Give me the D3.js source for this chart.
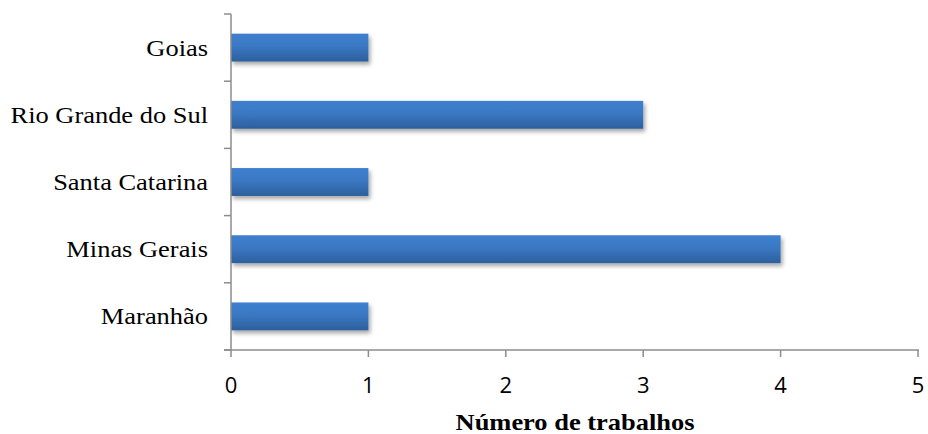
<!DOCTYPE html>
<html><head><meta charset="utf-8">
<script src="https://cdn.jsdelivr.net/npm/d3@7"></script>
<style>body{margin:0;background:#fff}svg{display:block}</style>
</head><body>
<script>
const categories = ["Goias", "Rio Grande do Sul", "Santa Catarina", "Minas Gerais", "Maranhão"];
const values = [1, 3, 1, 4, 1];
const xTicks = [0, 1, 2, 3, 4, 5];
const xTitle = "Número de trabalhos";

const W = 928, H = 434;
const svg = d3.select("body").append("svg").attr("width", W).attr("height", H);
const defs = svg.append("defs");
const grad = defs.append("linearGradient").attr("id", "g").attr("x1", 0).attr("y1", 0).attr("x2", 0).attr("y2", 1);
grad.append("stop").attr("offset", "0%").attr("stop-color", "#3f80cf");
grad.append("stop").attr("offset", "45%").attr("stop-color", "#3a78c3");
grad.append("stop").attr("offset", "100%").attr("stop-color", "#2d5f9c");
const f = defs.append("filter").attr("id", "sh").attr("x", "-5%").attr("y", "-30%").attr("width", "115%").attr("height", "180%");
f.append("feGaussianBlur").attr("in", "SourceAlpha").attr("stdDeviation", 2).attr("result", "b");
f.append("feOffset").attr("in", "b").attr("dx", 2).attr("dy", 3).attr("result", "o");
f.append("feComponentTransfer").attr("in", "o").attr("result", "o2").append("feFuncA").attr("type", "linear").attr("slope", 0.35);
const m = f.append("feMerge");
m.append("feMergeNode").attr("in", "o2");
m.append("feMergeNode").attr("in", "SourceGraphic");

const x = d3.scaleLinear().domain([0, 5]).range([231, 918]);
const y = d3.scaleBand().domain(categories).range([14, 350]).paddingInner(0.585).paddingOuter(0.2925);
const yOuter = d3.scaleBand().domain(categories).range([14, 350]);

svg.append("g").selectAll("rect").data(categories).join("rect")
  .attr("x", x(0)).attr("y", d => y(d))
  .attr("width", (d, i) => x(values[i]) - x(0))
  .attr("height", y.bandwidth())
  .attr("fill", "url(#g)").attr("filter", "url(#sh)");

const axisColor = "#8c8c8c";
const serif = "'Liberation Serif', 'Times New Roman', serif";
const sx = 1.15;
// y axis
const ya = svg.append("g");
ya.append("line").attr("x1", 231).attr("x2", 231).attr("y1", 14).attr("y2", 350).attr("stroke", axisColor).attr("stroke-width", 1.5);
const yt = categories.map(d => yOuter(d)).concat([350]);
ya.selectAll("line.t").data(yt).join("line").attr("class", "t")
  .attr("x1", 224).attr("x2", 231).attr("y1", d => d).attr("y2", d => d)
  .attr("stroke", axisColor).attr("stroke-width", 1.5);
ya.selectAll("text").data(categories).join("text")
  .attr("transform", d => `translate(208,${yOuter(d) + yOuter.bandwidth() / 2 + 8}) scale(${sx},1)`)
  .attr("text-anchor", "end")
  .attr("font-family", serif).attr("font-size", 23)
  .attr("fill", "#000").text(d => d);

// x axis
const xa = svg.append("g");
xa.append("line").attr("x1", 224).attr("x2", 919).attr("y1", 350).attr("y2", 350).attr("stroke", axisColor).attr("stroke-width", 1.5);
xa.selectAll("line.t").data(xTicks).join("line").attr("class", "t")
  .attr("x1", d => x(d)).attr("x2", d => x(d)).attr("y1", 350).attr("y2", 357)
  .attr("stroke", axisColor).attr("stroke-width", 1.5);
xa.selectAll("text").data(xTicks).join("text")
  .attr("x", d => x(d)).attr("y", 393)
  .attr("text-anchor", "middle")
  .attr("font-family", "'Open Sans', Lato, sans-serif").attr("font-size", 22)
  .attr("fill", "#000").text(d => d);

svg.append("text").attr("transform", `translate(575,430) scale(${sx},1)`).attr("text-anchor", "middle")
  .attr("font-family", serif).attr("font-size", 23).attr("font-weight", "bold")
  .text(xTitle);
</script>
</body></html>
